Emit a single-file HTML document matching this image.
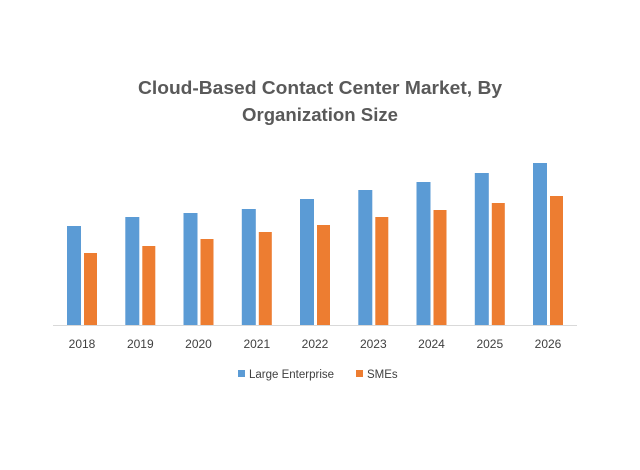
<!DOCTYPE html>
<html><head><style>
body{margin:0;background:#fff;}
</style></head><body>
<svg width="640" height="465" xmlns="http://www.w3.org/2000/svg" font-family="Liberation Sans, sans-serif">
<rect width="640" height="465" fill="#fff"/>
<text x="320" y="94" text-anchor="middle" font-size="18" font-weight="bold" fill="#595959" textLength="364" lengthAdjust="spacingAndGlyphs">Cloud-Based Contact Center Market, By</text>
<text x="320" y="121" text-anchor="middle" font-size="18" font-weight="bold" fill="#595959" textLength="156" lengthAdjust="spacingAndGlyphs">Organization Size</text>
<line x1="53" y1="325.5" x2="577" y2="325.5" stroke="#d9d9d9" stroke-width="1"/>
<g fill="#5b9bd5">
<rect x="67" y="226" width="14" height="99"/>
<rect x="125.3" y="217" width="14" height="108"/>
<rect x="183.5" y="213" width="14" height="112"/>
<rect x="241.8" y="209" width="14" height="116"/>
<rect x="300" y="199" width="14" height="126"/>
<rect x="358.3" y="190" width="14" height="135"/>
<rect x="416.5" y="182" width="14" height="143"/>
<rect x="474.8" y="173" width="14" height="152"/>
<rect x="533" y="163" width="14" height="162"/>
</g>
<g fill="#ed7d31">
<rect x="84" y="253" width="13" height="72"/>
<rect x="142.3" y="246" width="13" height="79"/>
<rect x="200.5" y="239" width="13" height="86"/>
<rect x="258.8" y="232" width="13" height="93"/>
<rect x="317" y="225" width="13" height="100"/>
<rect x="375.3" y="217" width="13" height="108"/>
<rect x="433.5" y="210" width="13" height="115"/>
<rect x="491.8" y="203" width="13" height="122"/>
<rect x="550" y="196" width="13" height="129"/>
</g>
<g font-size="12" fill="#404040" text-anchor="middle">
<text x="82" y="348">2018</text>
<text x="140.3" y="348">2019</text>
<text x="198.5" y="348">2020</text>
<text x="256.8" y="348">2021</text>
<text x="315" y="348">2022</text>
<text x="373.3" y="348">2023</text>
<text x="431.5" y="348">2024</text>
<text x="489.8" y="348">2025</text>
<text x="548" y="348">2026</text>
</g>
<rect x="238" y="370" width="7" height="7" fill="#5b9bd5"/>
<text x="249" y="378" font-size="11.5" fill="#404040">Large Enterprise</text>
<rect x="356" y="370" width="7" height="7" fill="#ed7d31"/>
<text x="367" y="378" font-size="11.5" fill="#404040">SMEs</text>
</svg>
</body></html>
